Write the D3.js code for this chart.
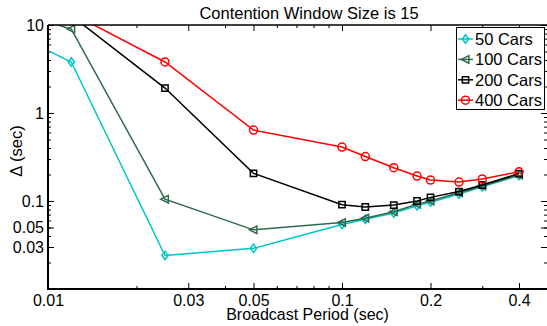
<!DOCTYPE html>
<html><head><meta charset="utf-8">
<script src="https://cdn.jsdelivr.net/npm/d3@7"></script>
<style>body{margin:0;background:#fff}svg{display:block;font-family:"Liberation Sans",Arial,sans-serif}</style>
</head><body>
<svg id="c" width="547" height="326"></svg>
<script>
const periods = [0.008, 0.012, 0.025, 0.05, 0.1, 0.12, 0.15, 0.18, 0.2, 0.25, 0.3, 0.4];
const cars50  = [7.4, 3.8, 0.024, 0.029, 0.054, 0.062, 0.073, 0.088, 0.097, 0.12, 0.145, 0.195];
const cars100 = [13.5, 9.0, 0.105, 0.047, 0.057, 0.0636, 0.0756, 0.0917, 0.1, 0.124, 0.148, 0.198];
const cars200 = [36, 12.8, 1.92, 0.206, 0.0908, 0.0855, 0.090, 0.1, 0.110, 0.128, 0.152, 0.205];
const cars400 = [27, 13.6, 3.8, 0.64, 0.41, 0.32, 0.239, 0.192, 0.173, 0.164, 0.178, 0.215];
const seriesNames = ["50 Cars", "100 Cars", "200 Cars", "400 Cars"];
const xTickLabels = [0.01, 0.03, 0.05, 0.1, 0.2, 0.4];
const yTickLabels = [0.03, 0.05, 0.1, 1, 10];
const title = "Contention Window Size is 15";
const xLabel = "Broadcast Period (sec)";
const yLabel = "\u0394 (sec)";

const series = [
  {name: seriesNames[0], values: cars50,  color: "#00c6c6", marker: "diamond"},
  {name: seriesNames[1], values: cars100, color: "#2f6b4c", marker: "triangle"},
  {name: seriesNames[2], values: cars200, color: "#000000", marker: "square"},
  {name: seriesNames[3], values: cars400, color: "#ff0000", marker: "circle"}
];

const svg = d3.select("#c");
const L = 48, R = 547.5, T = 25, B = 289;
const x = d3.scaleLog().domain([0.01, 0.5]).range([L, R]);
const y = d3.scaleLog().domain([0.01, 10]).range([B, T]);

const xMinor = [0.02,0.04,0.06,0.07,0.08,0.09,0.3,0.5];
const yMinor = [];
[0.01,0.1,1].forEach(d => { for (let k=2;k<=9;k++) yMinor.push(+(d*k).toPrecision(3)); });

const fmt = d => String(d);
function styleAxis(g){ g.select(".domain").remove(); g.selectAll("line").attr("stroke","#000").attr("stroke-width",1); }

// ticks
svg.append("g").attr("transform",`translate(0,${B})`).call(d3.axisBottom(x).tickValues(xTickLabels).tickSize(-6).tickPadding(8).tickFormat(fmt)).call(styleAxis)
  .selectAll("text").attr("font-size",16).attr("fill","#000").attr("y",17).attr("dy",0);
svg.append("g").attr("transform",`translate(0,${B})`).call(d3.axisBottom(x).tickValues(xMinor).tickSize(-3).tickFormat("")).call(styleAxis);
svg.append("g").attr("transform",`translate(0,${T})`).call(d3.axisTop(x).tickValues(xTickLabels).tickSize(-6).tickFormat("")).call(styleAxis);
svg.append("g").attr("transform",`translate(0,${T})`).call(d3.axisTop(x).tickValues(xMinor).tickSize(-3).tickFormat("")).call(styleAxis);
svg.append("g").attr("transform",`translate(${L},0)`).call(d3.axisLeft(y).tickValues(yTickLabels).tickSize(-6).tickPadding(4).tickFormat(fmt)).call(styleAxis)
  .selectAll("text").attr("font-size",16).attr("fill","#000").attr("x",-4);
svg.append("g").attr("transform",`translate(${L},0)`).call(d3.axisLeft(y).tickValues(yMinor).tickSize(-3).tickFormat("")).call(styleAxis);
svg.append("g").attr("transform",`translate(${R-0.5},0)`).call(d3.axisRight(y).tickValues(yTickLabels).tickSize(-6).tickFormat("")).call(styleAxis);
svg.append("g").attr("transform",`translate(${R-0.5},0)`).call(d3.axisRight(y).tickValues(yMinor).tickSize(-3).tickFormat("")).call(styleAxis);

// clip
svg.append("clipPath").attr("id","clip").append("rect").attr("x",L).attr("y",T).attr("width",R-L).attr("height",B-T);

function markerPath(type, s){
  if (type==="diamond") return `M0,${-s}L${s*0.75},0L0,${s}L${-s*0.75},0Z`;
  if (type==="triangle") return `M${-s},0L${s*0.8},${-s*0.9}L${s*0.8},${s*0.9}Z`;
  if (type==="square") return `M${-s*0.75},${-s*0.75}H${s*0.75}V${s*0.75}H${-s*0.75}Z`;
  return null;
}
function drawMarker(g, type, color, cx, cy){
  if (type==="circle") g.append("circle").attr("cx",cx).attr("cy",cy).attr("r",4).attr("fill","none").attr("stroke",color).attr("stroke-width",1.5);
  else g.append("path").attr("d",markerPath(type,4.2)).attr("transform",`translate(${cx},${cy})`).attr("fill","none").attr("stroke",color).attr("stroke-width",1.5);
}

const plot = svg.append("g").attr("clip-path","url(#clip)");
const line = d3.line().x((d,i)=>x(periods[i])).y(d=>y(d));
series.forEach(s => {
  const g = plot.append("g");
  g.append("path").datum(s.values).attr("d",line).attr("fill","none").attr("stroke",s.color).attr("stroke-width",1.5);
  s.values.forEach((v,i)=> drawMarker(g, s.marker, s.color, x(periods[i]), y(v)));
});

// box
svg.append("path").attr("d",`M${L},${T}V${B}H${R}`).attr("fill","none").attr("stroke","#000").attr("stroke-width",2);
svg.append("line").attr("x1",L).attr("x2",R).attr("y1",T).attr("y2",T).attr("stroke","#000").attr("stroke-width",1.5);

// legend
const lg = svg.append("g");
lg.append("rect").attr("x",456.5).attr("y",27.5).attr("width",88).attr("height",82).attr("fill","#fff").attr("stroke","#000").attr("stroke-width",1);
series.forEach((s,i)=>{
  const cy = 39 + i*20.4;
  lg.append("line").attr("x1",458).attr("x2",473).attr("y1",cy).attr("y2",cy).attr("stroke",s.color).attr("stroke-width",1.5);
  drawMarker(lg, s.marker, s.color, 465.5, cy);
  lg.append("text").attr("x",475).attr("y",cy).attr("dy","0.36em").attr("font-size",16.5).text(s.name);
});

// titles
svg.append("text").attr("x",309).attr("y",18.5).attr("text-anchor","middle").attr("font-size",16.5).text(title);
svg.append("text").attr("x",307.5).attr("y",320).attr("text-anchor","middle").attr("font-size",16).text(xLabel);
svg.append("text").attr("transform","translate(22,151) rotate(-90)").attr("text-anchor","middle").attr("font-size",16.5).text(yLabel);
</script>
</body></html>
